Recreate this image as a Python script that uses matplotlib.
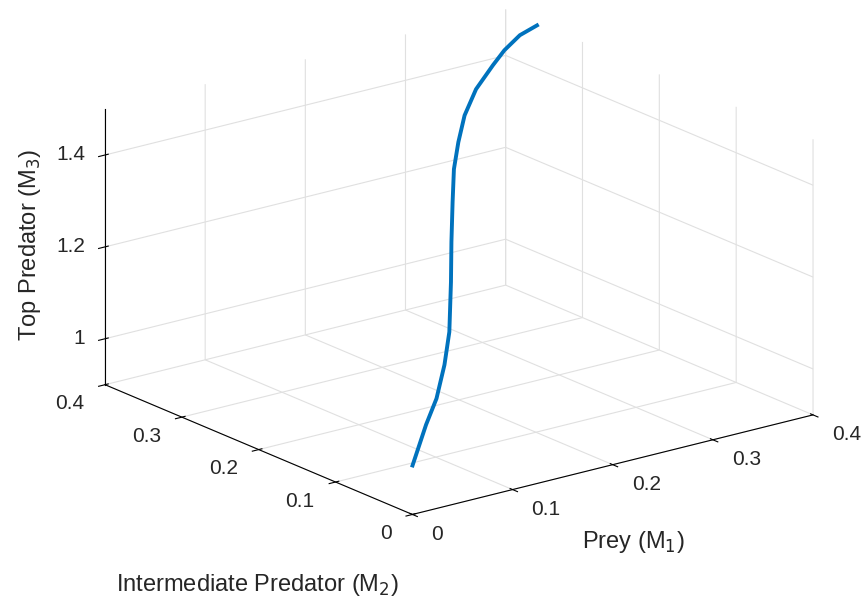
import numpy as np
import matplotlib
matplotlib.use('Agg')
import matplotlib.pyplot as plt
from matplotlib.transforms import offset_copy

plt.rcParams['font.family'] = ['Liberation Sans', 'DejaVu Sans']

# trajectory of the three populations
prey = [0.073, 0.108, 0.133, 0.154, 0.165, 0.172, 0.174, 0.179, 0.188,
        0.207, 0.237, 0.273, 0.316, 0.342, 0.372, 0.396]
inter_pred = [0.095, 0.123, 0.142, 0.159, 0.167, 0.174, 0.176, 0.181,
              0.191, 0.210, 0.241, 0.273, 0.307, 0.326, 0.345, 0.354]
top_pred = [0.900, 0.950, 0.980, 1.030, 1.090, 1.190, 1.275, 1.355, 1.415,
            1.450, 1.470, 1.485, 1.490, 1.495, 1.498, 1.500]

xy_ticks = [0, 0.1, 0.2, 0.3, 0.4]
xy_labels = ['0', '0.1', '0.2', '0.3', '0.4']
z_ticks = [1, 1.2, 1.4]
z_labels = ['1', '1.2', '1.4']

W, H = 862, 605
dark = (0.15, 0.15, 0.15)
fig = plt.figure(figsize=(W/100, H/100), dpi=100)
side = 520
cx, cy = 452, 269
ax = fig.add_axes([(cx - side/2)/W, (H - cy - side/2)/H, side/W, side/H],
                  projection='3d', proj_type='ortho')
ax.view_init(elev=18.9, azim=-127.5)
ax.set_box_aspect((1, 1, 0.577), zoom=1.337 * 560 / side)

ax.plot(prey, inter_pred, top_pred, color='#0072BD', lw=2.8)

ax.set_xlim(0, 0.4)
ax.set_ylim(0, 0.4)
ax.set_zlim(0.9, 1.5)
ax.set_xticks(xy_ticks)
ax.set_yticks(xy_ticks)
ax.set_zticks(z_ticks)

# keep mpl's tick marks, tick labels are placed by hand below
for axis in (ax.xaxis, ax.yaxis, ax.zaxis):
    axis.set_tick_params(labelbottom=False, labeltop=False)
    axis.label.set_visible(False)
    axis.offsetText.set_visible(False)
    axis.pane.fill = False
    axis.pane.set_edgecolor('none')
    axis._axinfo['grid']['color'] = (0.88, 0.88, 0.88, 1)
    axis._axinfo['grid']['linewidth'] = 0.8
    axis._axinfo['axisline']['color'] = (*dark, 1)
    axis._axinfo['axisline']['linewidth'] = 1.0
    axis._axinfo['tick']['color'] = (*dark, 1)
for title in (ax.title, ax._left_title, ax._right_title):
    title.set_visible(False)

def shifted(dx, dy):
    return offset_copy(ax.transData, fig=fig, x=dx, y=dy, units='dots')

for t, s in zip(xy_ticks, xy_labels):
    ax.text(t, 0, 0.9, s, transform=shifted(19, -20), ha='left',
            va='center', fontsize=15, color=dark)
    ax.text(0, t, 0.9, s, transform=shifted(-21, -19), ha='right',
            va='center', fontsize=15, color=dark)
for t, s in zip(z_ticks, z_labels):
    ax.text(0, 0.4, t, s, transform=shifted(-20, 0), ha='right',
            va='center', fontsize=15, color=dark)

fig.text(30/W, 1 - 245/H, 'Top Predator (M$_3$)', rotation=90,
         ha='center', va='center', fontsize=17, color=dark)
fig.text(633/W, 1 - 542/H, 'Prey (M$_1$)', ha='center', va='center',
         fontsize=17, color=dark)
fig.text(257/W, 1 - 585/H, 'Intermediate Predator (M$_2$)', ha='center',
         va='center', fontsize=17, color=dark)

fig.savefig('out.png', dpi=100)
